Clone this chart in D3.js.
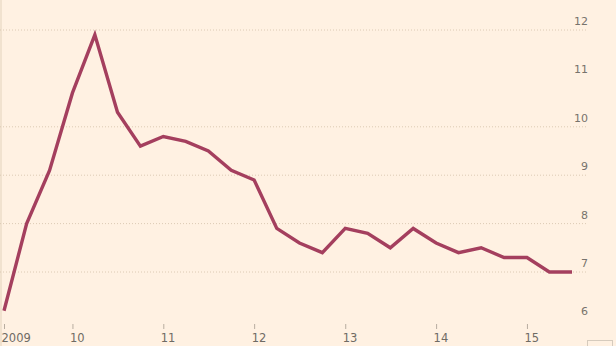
<!DOCTYPE html>
<html>
<head>
<meta charset="utf-8">
<script src="https://cdn.jsdelivr.net/npm/d3@7"></script>
<style>
  body { margin: 0; background: #fff1e2; }
  .grid line { stroke: #dccab4; stroke-dasharray: 1,2; }
  .yLabel { font-family: "DejaVu Sans", sans-serif; font-size: 11px; fill: #77736c; }
  .xAxis text { font-family: "DejaVu Sans", sans-serif; font-size: 11.5px; fill: #6f6b64; }
  .xAxis line { stroke: #b8ada0; }
</style>
</head>
<body>
<div class="chartCont"></div>
<script>
const w = 616;
const h = 346;

// quarterly series, starting Q2 2009
const startQuarter = "2009-04-01";
const values = [6.2, 8.0, 9.1, 10.7, 11.9, 10.3, 9.6, 9.8, 9.7, 9.5, 9.1, 8.9,
                7.9, 7.6, 7.4, 7.9, 7.8, 7.5, 7.9, 7.6, 7.4, 7.5, 7.3, 7.3, 7.0, 7.0];
const yTicks = [6, 7, 8, 9, 10, 11, 12];
const gridValues = [7, 8, 9, 10, 12];
const xTickDates = ["2009-04-01", "2010-01-01", "2011-01-01", "2012-01-01",
                    "2013-01-01", "2014-01-01", "2015-01-01"];

const parse = d3.timeParse("%Y-%m-%d");
const start = parse(startQuarter);
const data = values.map((v, i) => ({date: d3.timeMonth.offset(start, i * 3), value: v}));

const svg = d3.select(".chartCont").append("svg")
    .attr("width", w)
    .attr("height", h);

svg.append("rect")
    .attr("width", w)
    .attr("height", h)
    .attr("fill", "#fff1e2");

// faint left border
svg.append("line")
    .attr("x1", 1).attr("x2", 1)
    .attr("y1", 0).attr("y2", h)
    .attr("stroke", "#f1e2cf")
    .attr("stroke-width", 2);

const x = d3.scaleTime()
    .domain(d3.extent(data, d => d.date))
    .range([4, 572]);

const y = d3.scaleLinear()
    .domain([6, 12])
    .range([320.4, 30]);

// dotted gridlines
svg.append("g").attr("class", "grid")
  .selectAll("line")
  .data(gridValues)
  .enter().append("line")
    .attr("x1", 0)
    .attr("x2", 588)
    .attr("y1", d => y(d))
    .attr("y2", d => y(d));

// y labels on the right, above gridline
svg.append("g")
  .selectAll("text")
  .data(yTicks)
  .enter().append("text")
    .attr("class", "yLabel")
    .attr("x", 588)
    .attr("y", d => y(d) - 5)
    .attr("text-anchor", "end")
    .text(d => d);

// x axis
const fmt = d3.timeFormat("%y");
const xAxis = d3.axisBottom(x)
    .tickValues(xTickDates.map(parse))
    .tickSize(5)
    .tickFormat((d, i) => i === 0 ? "2009" : fmt(d));

const gx = svg.append("g")
    .attr("class", "xAxis")
    .attr("transform", "translate(0,324)")
    .call(xAxis);
gx.select(".domain").remove();
gx.selectAll("text")
    .attr("text-anchor", "start")
    .attr("x", -3)
    .attr("y", 18)
    .attr("dy", 0);

// the line
const line = d3.line()
    .x(d => x(d.date))
    .y(d => y(d.value));

svg.append("path")
    .datum(data)
    .attr("fill", "none")
    .attr("stroke", "#a43f5e")
    .attr("stroke-width", 3.4)
    .attr("stroke-linejoin", "miter")
    .attr("d", line);

// little logo box bottom right
svg.append("rect")
    .attr("x", 587.5)
    .attr("y", 340.5)
    .attr("width", 25)
    .attr("height", 12)
    .attr("fill", "none")
    .attr("stroke", "#d6cbbd");
</script>
</body>
</html>
